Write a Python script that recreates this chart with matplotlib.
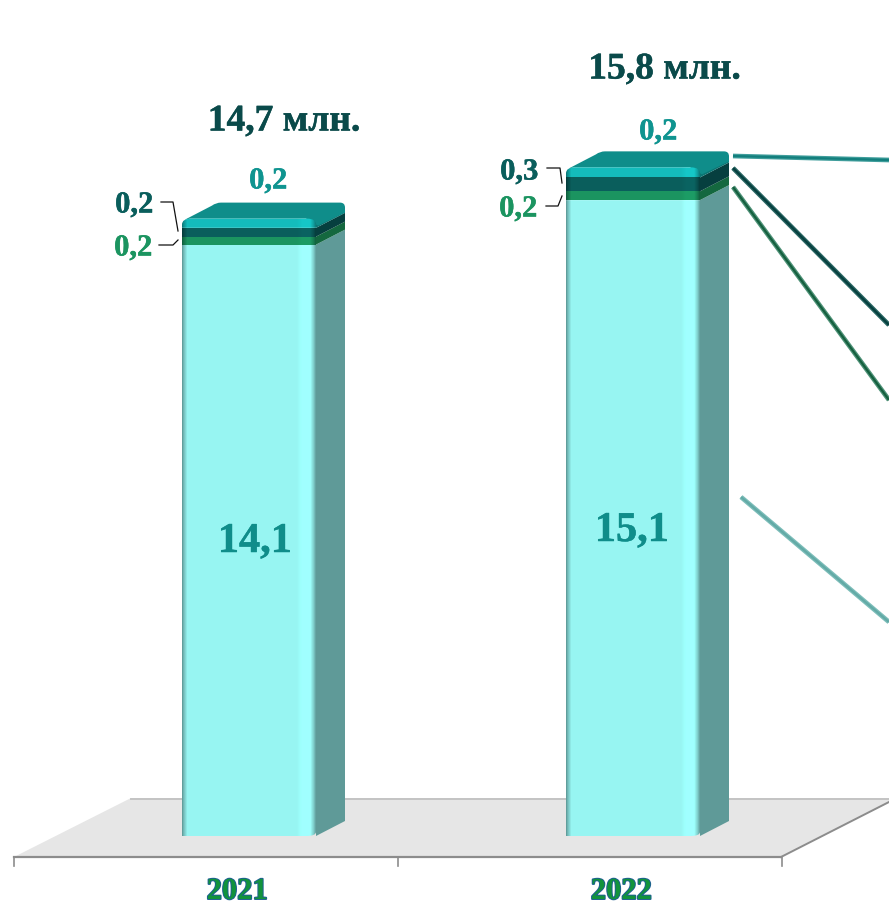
import numpy as np
import matplotlib
matplotlib.use("Agg")
import matplotlib.pyplot as plt
import matplotlib.patheffects as pe
from matplotlib.colors import to_rgb
from matplotlib.patches import Polygon, PathPatch
from matplotlib.path import Path

plt.rcParams["font.family"] = ["Liberation Serif", "DejaVu Serif"]

years = ["2021", "2022"]
main_vals = [14.08, 15.14]
green_vals = [0.19, 0.21]
dark_vals = [0.21, 0.33]
teal_vals = [0.22, 0.24]
totals = [14.7, 15.8]


# layout is measured in reference pixels, everything below goes through these
def X(px):
    return (px - 206) / 384.0


def Y(py):
    return (836 - py) / 42.0


def fmt(v):
    return ("%.1f" % v).replace(".", ",")


BAR_W = 134 / 384.0
DX = 29 / 384.0           # depth of the bars
DY = 15 / 42.0

fig = plt.figure(figsize=(8.89, 9.07), dpi=100)
ax = fig.add_axes([0, 0, 1, 1])
ax.axis("off")

# floor
floor = Polygon([(X(14), Y(857)), (X(131), Y(798)), (X(898), Y(798)), (X(781), Y(857))],
                closed=True, fc="#e6e6e6", ec="none", zorder=1)
ax.add_patch(floor)
ax.plot([X(131), X(892)], [Y(798.5), Y(798.5)], color="#c4c4c4", lw=1.4, zorder=1)
ax.plot([X(781), X(889)], [Y(857), Y(802)], color="#8c8c8c", lw=1.4, zorder=1)
ax.plot([X(14), X(781)], [Y(857), Y(857)], color="#8c8c8c", lw=1.6, zorder=1)
for k in range(3):
    ax.plot([k - 0.5, k - 0.5], [Y(857), Y(866)], color="#8c8c8c", lw=1.2, zorder=1)

# shading across the front of a bar
shade_x = [0.0, 0.012, 0.04, 0.86, 0.90, 0.96, 0.985, 1.0]
shade_y = [0.60, 0.75, 1.0, 1.0, 1.06, 1.06, 0.85, 0.68]
shade_t = np.linspace(0, 1, 268)
shade = np.interp(shade_t, shade_x, shade_y)


def front(left, y0, y1, color, clip=None, z=3):
    base = np.array(to_rgb(color))
    img = np.clip(shade[None, :, None] * base[None, None, :], 0, 1)
    im = ax.imshow(img, extent=[left, left + BAR_W, y0, y1], aspect="auto", zorder=z,
                   interpolation="nearest")
    if clip is not None:
        im.set_clip_path(clip)


def side(left, y0, y1, color, z=2.5):
    r = left + BAR_W
    ax.add_patch(Polygon([(r, y0), (r + DX, y0 + DY), (r + DX, y1 + DY), (r, y1)],
                         closed=True, fc=color, ec="none", zorder=z))


def top_face(left, y, color):
    # offsets in px right of the bar's left edge and up from the front rim
    def P(dx, up):
        return (left + dx / 384.0, y + up / 42.0)
    verts = [P(3, -1), P(30, 13), P(34, 16), P(39, 16), P(158, 16), P(163, 16), P(163, 11),
             P(163, 6), P(136, -7), P(124, 0), P(8, 0), P(3, -1)]
    codes = [Path.MOVETO, Path.LINETO, Path.CURVE3, Path.CURVE3, Path.LINETO, Path.CURVE3, Path.CURVE3,
             Path.LINETO, Path.LINETO, Path.LINETO, Path.LINETO, Path.CLOSEPOLY]
    ax.add_patch(PathPatch(Path(verts, codes), fc=color, ec="none", zorder=4))


def rim_clip(left, y0, y1):
    r = left + BAR_W
    cx = 9 / 384.0
    cy = 6 / 42.0
    p = Path([(left, y0), (r, y0), (r, y1 - cy), (r, y1), (r - cx, y1), (left + cx, y1), (left, y1),
              (left, y1 - cy), (left, y0)],
             [Path.MOVETO, Path.LINETO, Path.LINETO, Path.CURVE3, Path.CURVE3, Path.LINETO,
              Path.CURVE3, Path.CURVE3, Path.CLOSEPOLY])
    patch = PathPatch(p, transform=ax.transData, fc="none", ec="none")
    ax.add_patch(patch)
    return patch


def label(px, py, text, size, color, weight=0.35):
    ax.text(X(px), Y(py), text, ha="center", va="center", fontsize=size, fontweight="bold",
            color=color, zorder=6, path_effects=[pe.withStroke(linewidth=weight, foreground=color)])


main_lab_x = [255, 632]
main_lab_y = [542, 531]
teal_lab = [(268, 181), (658, 132)]
dark_lab = [(134, 205), (519, 172)]
green_lab = [(133, 248), (518, 209)]
total_lab = [(284, 121), (664.5, 69)]
year_x = [237, 621]

for i in range(len(years)):
    left = X(182) + i
    r = left + BAR_W
    y1 = main_vals[i]
    y2 = y1 + green_vals[i]
    y3 = y2 + dark_vals[i]
    y4 = y3 + teal_vals[i]

    # main segment, bottom right corner is rounded
    cr = 10 / 384.0
    ch = 4 / 42.0
    clip_path = Path(
        [(left, 0), (r - cr, 0), (r, 0), (r, ch), (r, y1), (left, y1), (left, 0)],
        [Path.MOVETO, Path.LINETO, Path.CURVE3, Path.CURVE3, Path.LINETO, Path.LINETO, Path.CLOSEPOLY])
    clip_patch = PathPatch(clip_path, transform=ax.transData, fc="none", ec="none")
    ax.add_patch(clip_patch)
    side(left, 0, y1, "#5f9a98")
    front(left, 0, y1, "#97f5f2", clip=clip_patch)

    side(left, y1, y2, "#14683f")
    front(left, y1, y2, "#1b9460")
    side(left, y2, y3, "#063f3f")
    front(left, y2, y3, "#0a5e5c")
    side(left, y3, y4 - 0.1, "#0b7674")
    top_face(left, y4, "#0f8d8a")
    front(left, y3, y4, "#14bcbc", clip=rim_clip(left, y3, y4), z=5)

    label(main_lab_x[i], main_lab_y[i], fmt(main_vals[i]), 30.5, "#0f8d8a")
    label(teal_lab[i][0], teal_lab[i][1], fmt(teal_vals[i]), 22, "#0f9490")
    label(dark_lab[i][0], dark_lab[i][1], fmt(dark_vals[i]), 22, "#0a5e5c")
    label(green_lab[i][0], green_lab[i][1], fmt(green_vals[i]), 22, "#1b9460")
    label(total_lab[i][0], total_lab[i][1], fmt(totals[i]) + " млн.", 27, "#0a4a4a")
    ax.text(X(year_x[i]), Y(899), years[i], ha="center", va="baseline", fontsize=22, fontweight="bold",
            color="#12933c", zorder=6,
            path_effects=[pe.withStroke(linewidth=1.4, foreground="#1d5f92")])

# small brackets next to the labels
brackets = [
    [(161, 202), (173, 202), (178, 231)],
    [(159, 245), (173, 245), (178, 240)],
    [(547, 168), (560, 168), (562, 183)],
    [(546, 206), (558, 206), (562, 196)],
]
for b in brackets:
    ax.plot([X(p[0]) for p in b], [Y(p[1]) for p in b], color="#111111", lw=0.9, zorder=6)

# series lines running on to the next category, cut by the frame
series_lines = [
    ((733, 156), (889, 160), "#3f9d9b", "#137f7d"),
    ((733, 168), (889, 325), "#2a6663", "#06403f"),
    ((733, 187), (889, 400), "#4f9278", "#15603f"),
    ((741, 497), (889, 622), "#7cbdb9", "#62aaa6"),
]
for a, b, c_out, c_in in series_lines:
    ax.plot([X(a[0]), X(b[0])], [Y(a[1]), Y(b[1])], color=c_out, lw=3.4, zorder=3,
            solid_capstyle="butt")
    ax.plot([X(a[0]), X(b[0])], [Y(a[1]), Y(b[1])], color=c_in, lw=1.6, zorder=3,
            solid_capstyle="butt")

ax.set_xlim(X(0), X(889))
ax.set_ylim(Y(907), Y(0))

fig.savefig("out.png", dpi=100, facecolor="white")
